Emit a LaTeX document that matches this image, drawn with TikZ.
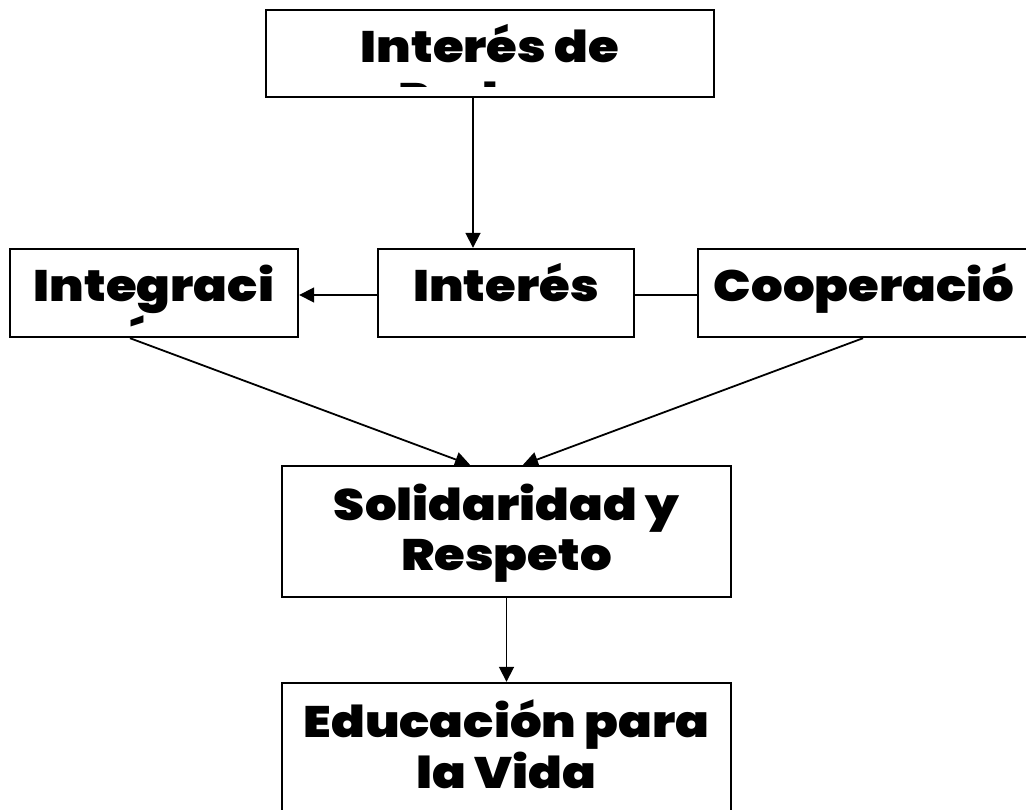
\documentclass[tikz,border=0pt]{standalone}
\usepackage{fontspec}
\setmainfont{Poppins Black}[FakeStretch=1.13]
\usetikzlibrary{arrows.meta}
\tikzset{
  box/.style={draw=black, line width=2.4pt, rectangle, inner sep=0pt},
  txt/.style={font=\fontsize{44}{51}\selectfont, inner sep=0pt, anchor=base, text=black},
  arr/.style={line width=1.8pt, -{Triangle[length=15pt,width=15pt]}},
  ln/.style={line width=1.8pt}
}
\newcommand{\boxclip}[1]{\clip ([shift={(1,1)}]#1.north west) rectangle ([shift={(-1,-11.5)}]#1.south east);}
\begin{document}
\begin{tikzpicture}[x=1pt,y=-1pt]
\clip (0,0) rectangle (1026,810);
\fill[white] (0,0) rectangle (1026,810);
% boxes
\node[box, minimum width=448pt, minimum height=87pt] (top) at (490,53.5) {};
\node[box, minimum width=288pt, minimum height=88pt] (integ) at (154,293) {};
\node[box, minimum width=256pt, minimum height=88pt] (inter) at (506,293) {};
\node[box, minimum width=332pt, minimum height=88pt] (coop) at (864,293) {};
\node[box, minimum width=449pt, minimum height=131pt] (solid) at (506.5,531.5) {};
\node[box, minimum width=449pt, minimum height=131pt] (educ) at (506.5,748.5) {};
% texts (clipped to their boxes' text frames)
\begin{scope}
\boxclip{top}
\node[txt] (t1) at (490,63) {Interés de};
\node[txt] (t2) at (490,115) {Padres};
\end{scope}
\begin{scope}
\boxclip{integ}
\node[txt] (i1) at (154,302) {Integraci};
\node[txt] (i2) at (154,354) {ón};
\end{scope}
\begin{scope}
\boxclip{inter}
\node[txt] (m1) at (506,302) {Interés};
\end{scope}
\begin{scope}
\boxclip{coop}
\node[txt] (c1) at (864,302) {Cooperació};
\node[txt] (c2) at (864,354) {n};
\end{scope}
\begin{scope}
\boxclip{solid}
\node[txt] (s1) at (506.5,520) {Solidaridad y};
\node[txt] (s2) at (506.5,570) {Respeto};
\end{scope}
\begin{scope}
\boxclip{educ}
\node[txt] (e1) at (506.5,737) {Educación para};
\node[txt] (e2) at (506.5,788) {la Vida};
\end{scope}
% connectors
\coordinate (xa) at (473,0);
\coordinate (xl) at (130,0);
\coordinate (xr) at (863,0);
\coordinate (tl) at (470,0);
\coordinate (tr) at (523,0);
\draw[arr] (xa |- top.south) -- (xa |- inter.north);
\draw[arr] ([yshift=-2pt]inter.west) -- ([yshift=-2pt]integ.east);
\draw[ln] ([yshift=-2pt]inter.east) -- ([yshift=-2pt]coop.west);
\draw[arr] (xl |- integ.south) -- (tl |- solid.north);
\draw[arr] (xr |- coop.south) -- (tr |- solid.north);
\draw[arr] (solid.south) -- (educ.north);
\end{tikzpicture}
\end{document}
